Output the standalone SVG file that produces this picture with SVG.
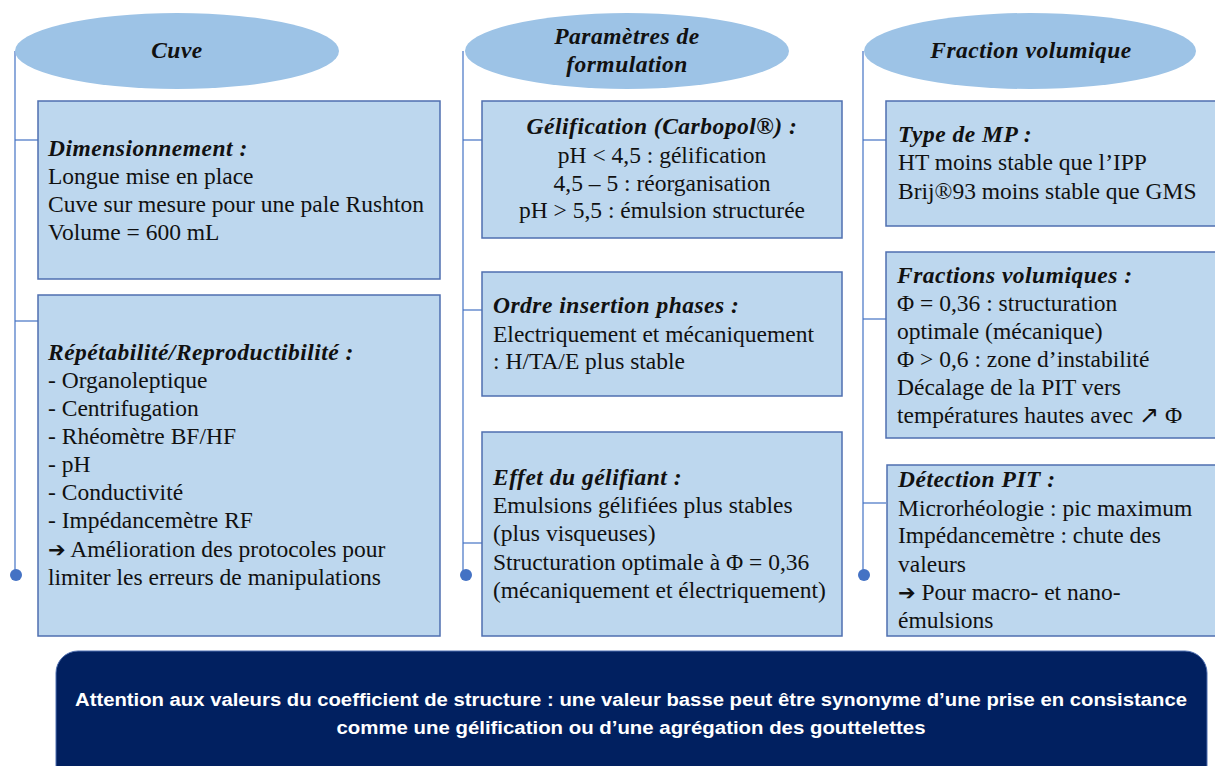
<svg xmlns="http://www.w3.org/2000/svg" width="1215" height="766" viewBox="0 0 1215 766">
<style>
.ell{fill:#9DC3E6;stroke:none}
.box{fill:#BDD7EE;stroke:#4F6FB0;stroke-width:1.5}
.ln{stroke:#4472C4;stroke-width:1.2;fill:none}
.dot{fill:#4472C4}
.t{font-family:"Liberation Serif",serif;font-size:23.5px;fill:#111}
.h{font-weight:bold;font-style:italic;letter-spacing:0.5px}
.c{text-anchor:middle}
.ar{font-family:"DejaVu Sans",sans-serif;font-weight:bold;font-size:21px;letter-spacing:0}
.b{font-family:"Liberation Sans",Arial,sans-serif;font-weight:bold;font-size:18px;fill:#fff;text-anchor:middle}
</style>
<rect width="1215" height="766" fill="#fff"/>
<g id="connectors">
<line class="ln" x1="15" y1="51" x2="15" y2="575"/>
<line class="ln" x1="15" y1="140" x2="38" y2="140"/>
<line class="ln" x1="15" y1="321" x2="38" y2="321"/>
<circle class="dot" cx="16" cy="575" r="6"/>
<line class="ln" x1="463" y1="51" x2="463" y2="575"/>
<line class="ln" x1="463" y1="140" x2="482" y2="140"/>
<line class="ln" x1="463" y1="310" x2="482" y2="310"/>
<line class="ln" x1="463" y1="543" x2="482" y2="543"/>
<circle class="dot" cx="466" cy="575" r="6"/>
<line class="ln" x1="863" y1="51" x2="863" y2="575"/>
<line class="ln" x1="863" y1="140" x2="886" y2="140"/>
<line class="ln" x1="863" y1="319" x2="886" y2="319"/>
<line class="ln" x1="863" y1="503" x2="886" y2="503"/>
<circle class="dot" cx="864" cy="575" r="6"/>
</g>
<g id="cuve">
<ellipse class="ell" cx="177" cy="51" rx="162" ry="38"/>
<text class="t h c" x="177" y="58">Cuve</text>
</g>
<g id="dimensionnement">
<rect class="box" x="38" y="101" width="402" height="178"/>
<text class="t" x="48" y="156"><tspan class="h">Dimensionnement :</tspan><tspan x="48" y="184">Longue mise en place</tspan><tspan x="48" y="212">Cuve sur mesure pour une pale Rushton</tspan><tspan x="48" y="240">Volume = 600 mL</tspan></text>
</g>
<g id="repetabilite">
<rect class="box" x="38" y="295" width="402" height="341"/>
<text class="t" x="48" y="360"><tspan class="h">Répétabilité/Reproductibilité :</tspan><tspan x="48" y="388">- Organoleptique</tspan><tspan x="48" y="416">- Centrifugation</tspan><tspan x="48" y="444">- Rhéomètre BF/HF</tspan><tspan x="48" y="472">- pH</tspan><tspan x="48" y="500">- Conductivité</tspan><tspan x="48" y="528">- Impédancemètre RF</tspan><tspan x="48" y="557"><tspan class="ar">➔</tspan> Amélioration des protocoles pour</tspan><tspan x="48" y="585">limiter les erreurs de manipulations</tspan></text>
</g>
<g id="parametres">
<ellipse class="ell" cx="627" cy="51" rx="162" ry="38"/>
<text class="t h c" x="627" y="44">Paramètres de<tspan x="627" y="72">formulation</tspan></text>
</g>
<g id="gelification">
<rect class="box" x="482" y="101" width="360" height="137"/>
<text class="t c" x="662" y="134"><tspan class="h">Gélification (Carbopol®) :</tspan><tspan x="662" y="163">pH &lt; 4,5 : gélification</tspan><tspan x="662" y="191">4,5 – 5 : réorganisation</tspan><tspan x="662" y="218">pH &gt; 5,5 : émulsion structurée</tspan></text>
</g>
<g id="ordre">
<rect class="box" x="482" y="272" width="360" height="124"/>
<text class="t" x="493" y="313"><tspan class="h">Ordre insertion phases :</tspan><tspan x="493" y="342">Electriquement et mécaniquement</tspan><tspan x="493" y="369">: H/TA/E plus stable</tspan></text>
</g>
<g id="effet">
<rect class="box" x="482" y="432" width="360" height="204"/>
<text class="t" x="493" y="485"><tspan class="h">Effet du gélifiant :</tspan><tspan x="493" y="513">Emulsions gélifiées plus stables</tspan><tspan x="493" y="541">(plus visqueuses)</tspan><tspan x="493" y="570">Structuration optimale à Φ = 0,36</tspan><tspan x="493" y="598">(mécaniquement et électriquement)</tspan></text>
</g>
<g id="fraction">
<ellipse class="ell" cx="1030" cy="51" rx="166" ry="38"/>
<text class="t h c" x="1031" y="58">Fraction volumique</text>
</g>
<g id="typemp">
<rect class="box" x="886" y="101" width="335" height="125"/>
<text class="t" x="898" y="142"><tspan class="h">Type de MP :</tspan><tspan x="898" y="170">HT moins stable que l’IPP</tspan><tspan x="898" y="199">Brij®93 moins stable que GMS</tspan></text>
</g>
<g id="fractions">
<rect class="box" x="886" y="252" width="335" height="186"/>
<text class="t" x="897" y="283"><tspan class="h">Fractions volumiques :</tspan><tspan x="897" y="311">Φ = 0,36 : structuration</tspan><tspan x="897" y="339">optimale (mécanique)</tspan><tspan x="897" y="367">Φ &gt; 0,6 : zone d’instabilité</tspan><tspan x="897" y="395">Décalage de la PIT vers</tspan><tspan x="897" y="423">températures hautes avec ↗ Φ</tspan></text>
</g>
<g id="detection">
<rect class="box" x="887" y="465" width="334" height="171"/>
<text class="t" x="898" y="487"><tspan class="h">Détection PIT :</tspan><tspan x="898" y="516">Microrhéologie : pic maximum</tspan><tspan x="898" y="543">Impédancemètre : chute des</tspan><tspan x="898" y="572">valeurs</tspan><tspan x="898" y="600"><tspan class="ar">➔</tspan> Pour macro- et nano-</tspan><tspan x="898" y="628">émulsions</tspan></text>
</g>
<g id="attention">
<rect x="56" y="651" width="1151" height="140" rx="22" fill="#012060" stroke="#4F6FB0" stroke-width="1"/>
<text class="b" x="631" y="706" textLength="1112" lengthAdjust="spacingAndGlyphs">Attention aux valeurs du coefficient de structure : une valeur basse peut être synonyme d’une prise en consistance</text>
<text class="b" x="631" y="734" textLength="589" lengthAdjust="spacingAndGlyphs">comme une gélification ou d’une agrégation des gouttelettes</text>
</g>
</svg>
